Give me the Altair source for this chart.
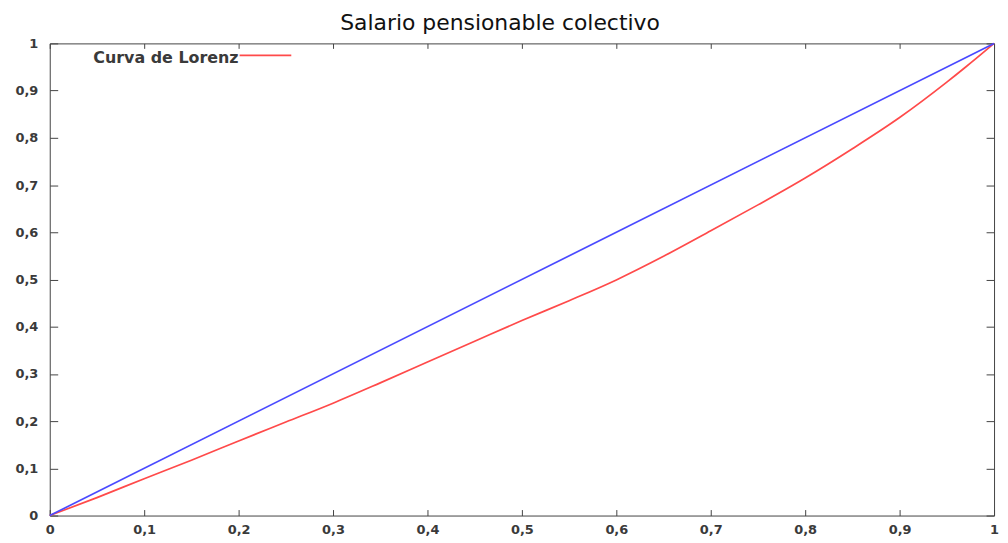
import altair as alt
import pandas as pd

# ---- data ----
share_x = [0.0, 0.05, 0.1, 0.15, 0.2, 0.25, 0.3, 0.35, 0.4, 0.45, 0.5, 0.55,
           0.6, 0.65, 0.7, 0.75, 0.8, 0.85, 0.9, 0.95, 0.97, 0.99, 1.0]
lorenz_y = [0.0, 0.038, 0.078, 0.117, 0.158, 0.198, 0.238, 0.281, 0.325, 0.369,
            0.413, 0.455, 0.499, 0.549, 0.603, 0.658, 0.715, 0.777, 0.843, 0.918,
            0.950, 0.983, 1.0]
equality_x = [0.0, 1.0]
equality_y = [0.0, 1.0]
tick_values = [0, 0.1, 0.2, 0.3, 0.4, 0.5, 0.6, 0.7, 0.8, 0.9, 1]
title_text = "Salario pensionable colectivo"
legend_label = "Curva de Lorenz"

lorenz_df = pd.DataFrame({"x": share_x, "y": lorenz_y})
equal_df = pd.DataFrame({"x": equality_x, "y": equality_y})
legend_df = pd.DataFrame({"label": [legend_label]})
title_df = pd.DataFrame({"label": [title_text]})

FONT = "DejaVu Sans"
LABEL_COLOR = "#3a3a3a"
FRAME = "#444444"
label_expr = "replace(format(datum.value, '~g'), '.', ',')"

xscale = alt.Scale(domain=[0, 1], nice=False, zero=True)
yscale = alt.Scale(domain=[0, 1], nice=False, zero=True)

common_axis = dict(values=tick_values, grid=False, domain=False, title=None,
                   tickColor=FRAME, tickWidth=1, labelFont=FONT,
                   labelFontSize=13, labelFontWeight="bold",
                   labelColor=LABEL_COLOR)

red = alt.Chart(lorenz_df).mark_line(
    color="#ff4a4a", strokeWidth=1.7, interpolate="monotone"
).encode(
    x=alt.X("x:Q", scale=xscale,
            axis=alt.Axis(orient="bottom", offset=-6, tickSize=6,
                          labelPadding=8, labelExpr=label_expr,
                          labelFlush=False, **common_axis)),
    y=alt.Y("y:Q", scale=yscale,
            axis=alt.Axis(orient="left", offset=-8, tickSize=8,
                          labelPadding=12, labelExpr=label_expr,
                          labelFlush=False, **common_axis)),
)

blue = alt.Chart(equal_df).mark_line(color="#4a4aff", strokeWidth=1.7).encode(
    x=alt.X("x:Q", scale=xscale,
            axis=alt.Axis(orient="top", offset=-5, tickSize=5, labels=False,
                          **common_axis)),
    y=alt.Y("y:Q", scale=yscale,
            axis=alt.Axis(orient="right", offset=-8, tickSize=8, labels=False,
                          **common_axis)),
)

legend_text = alt.Chart(legend_df).mark_text(
    align="right", baseline="middle", font=FONT, fontSize=16,
    fontWeight="bold", color=LABEL_COLOR
).encode(text="label:N", x=alt.value(190), y=alt.value(15))

legend_line = alt.Chart(legend_df).mark_rule(
    color="#ff4a4a", strokeWidth=1.7
).encode(x=alt.value(191), x2=alt.value(243), y=alt.value(12))

title_mark = alt.Chart(title_df).mark_text(
    align="center", baseline="alphabetic", font=FONT, fontSize=22,
    color="#111111"
).encode(text="label:N", x=alt.value(453), y=alt.value(-13))

chart = alt.layer(red, blue, legend_text, legend_line, title_mark).resolve_axis(
    x="independent", y="independent"
).properties(
    width=950, height=475,
    autosize=alt.AutoSizeParams(type="none"),
    padding={"left": 42, "top": 34, "right": 6, "bottom": 24},
).configure_view(stroke=FRAME, strokeWidth=1)

chart.save("out.html", embed_options={"renderer": "svg", "actions": False})
